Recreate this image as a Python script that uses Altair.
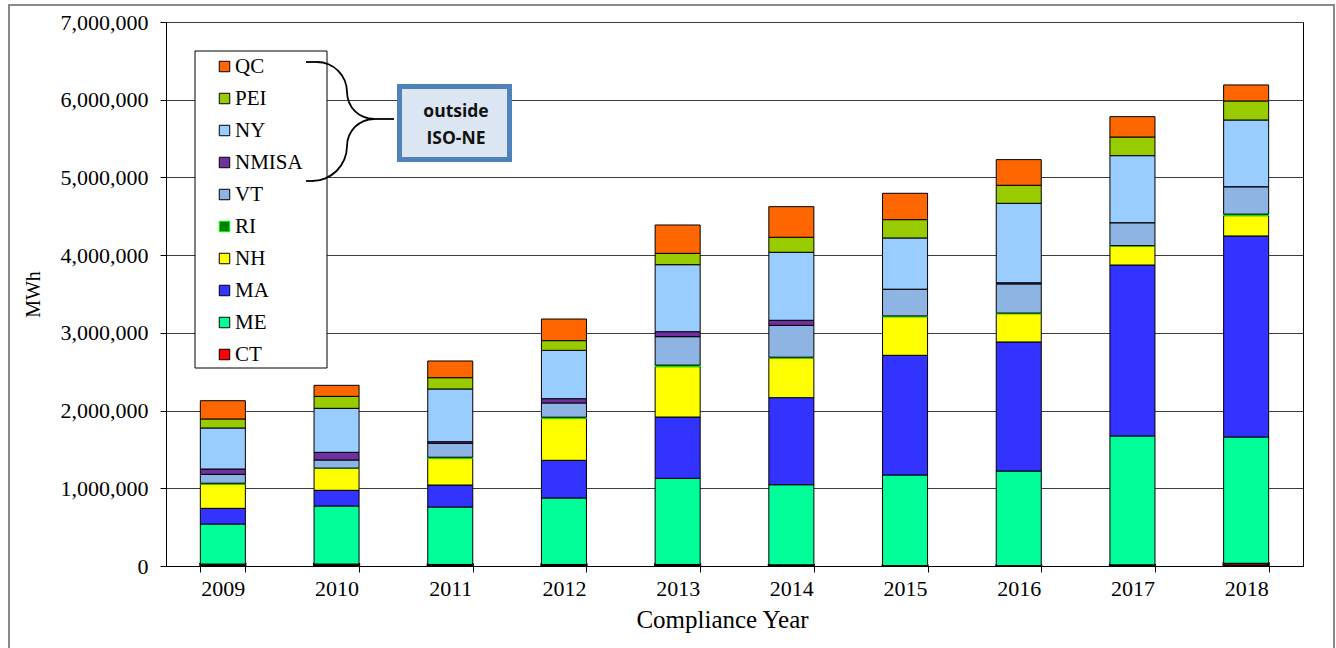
import altair as alt
import pandas as pd

# Compliance years on the x axis
years = ["2009", "2010", "2011", "2012", "2013", "2014", "2015", "2016", "2017", "2018"]

# Stack order, bottom to top
states = ["CT", "ME", "MA", "NH", "RI", "VT", "NMISA", "NY", "PEI", "QC"]

# MWh by state and year
ct = [25000, 25000, 20000, 20000, 20000, 15000, 5000, 5000, 15000, 35000]
me = [515000, 747000, 739000, 855000, 1108000, 1031000, 1166000, 1217000, 1658000, 1625000]
ma = [202000, 202000, 283000, 485000, 789000, 1120000, 1540000, 1661000, 2200000, 2587000]
nh = [313000, 283000, 344000, 540000, 648000, 511000, 497000, 364000, 245000, 261000]
ri = [10000, 3000, 14000, 15000, 20000, 10000, 10000, 8000, 5000, 20000]
vt = [115000, 104000, 179000, 183000, 366000, 410000, 342000, 375000, 295000, 353000]
nmisa = [68000, 99000, 21000, 55000, 64000, 65000, 2000, 15000, 0, 0]
ny = [528000, 566000, 678000, 622000, 862000, 875000, 659000, 1022000, 862000, 858000]
pei = [116000, 154000, 145000, 125000, 146000, 193000, 236000, 232000, 240000, 245000]
qc = [235000, 142000, 215000, 278000, 365000, 394000, 339000, 330000, 262000, 206000]
series = [ct, me, ma, nh, ri, vt, nmisa, ny, pei, qc]

fill_colors = {
    "CT": "#FF0000", "ME": "#00FF99", "MA": "#3333FF", "NH": "#FFFF00",
    "RI": "#008000", "VT": "#8DB4E2", "NMISA": "#7030A0", "NY": "#99CCFF",
    "PEI": "#99CC00", "QC": "#FF6600",
}
stroke_colors = {s: "#000000" for s in states}
stroke_colors["RI"] = "#00FF00"

y_ticks = [0, 1000000, 2000000, 3000000, 4000000, 5000000, 6000000, 7000000]

rows = []
for i, (st, vals) in enumerate(zip(states, series)):
    for yr, v in zip(years, vals):
        rows.append({"year": yr, "state": st, "mwh": v, "pos": i})
df = pd.DataFrame(rows)

legend_order = states[::-1]

# page placement of the plot area
LEFT, TOP, W, H = 166, 22, 1137, 544
SERIF = "Liberation Serif"

bars = alt.Chart(df).mark_bar(opacity=1).encode(
    x=alt.X(
        "year:N",
        title="Compliance Year",
        scale=alt.Scale(paddingInner=0.604, paddingOuter=0.302),
        axis=alt.Axis(
            labelAngle=0, tickBand="extent", grid=False, tickSize=6,
            labelPadding=6, titlePadding=8, titleX=556,
        ),
    ),
    y=alt.Y(
        "mwh:Q",
        stack="zero",
        title="MWh",
        scale=alt.Scale(domain=[0, 7000000], nice=False),
        axis=alt.Axis(format=",d", values=y_ticks, tickSize=6, labelPadding=12, titlePadding=17),
    ),
    fill=alt.Fill(
        "state:N",
        title=None,
        scale=alt.Scale(domain=legend_order, range=[fill_colors[s] for s in legend_order]),
        legend=alt.Legend(orient="none", legendX=48, legendY=34),
    ),
    stroke=alt.Stroke(
        "state:N",
        title=None,
        scale=alt.Scale(domain=legend_order, range=[stroke_colors[s] for s in legend_order]),
    ),
    strokeWidth=alt.condition(alt.datum.state == "CT", alt.value(2.2), alt.value(1)),
    order=alt.Order("pos:Q", sort="ascending"),
)

one = alt.Data(values=[{"k": 1}])

def px(x):
    return x - LEFT

def py(y):
    return y - TOP

# legend frame
legend_box = alt.Chart(one).mark_rect(fill="white", stroke="black", strokeWidth=1).encode(
    x=alt.value(px(195)), x2=alt.value(px(327)), y=alt.value(py(51)), y2=alt.value(py(368))
)

# outer figure frame
frame = alt.Chart(one).mark_rect(fill="transparent", stroke="#8a8a8a", strokeWidth=2).encode(
    x=alt.value(px(9)), x2=alt.value(px(1334)), y=alt.value(py(5)), y2=alt.value(py(700))
)

# curly brace from four quarter arcs and short straight pieces
PI = 3.141592653589793
arcs = []
for cx, cy, r, t0, t1 in [
    (317, 92, 30, 0, PI / 2),
    (374, 92, 27, PI, 1.5 * PI),
    (374, 146, 27, 1.5 * PI, 2 * PI),
    (312, 146, 35, PI / 2, PI),
]:
    arcs.append(
        alt.Chart(one).mark_arc(
            theta=t0, theta2=t1, radius=r + 0.9, radius2=r - 0.9, color="black"
        ).encode(x=alt.value(px(cx)), y=alt.value(py(cy)))
    )
brace_lines = []
for x1, x2, yy in [(306, 317, 62), (374, 394, 119), (306, 312, 181)]:
    brace_lines.append(
        alt.Chart(one).mark_rule(color="black", strokeWidth=1.8).encode(
            x=alt.value(px(x1)), x2=alt.value(px(x2)), y=alt.value(py(yy))
        )
    )

note_box = alt.Chart(one).mark_rect(fill="#DCE6F2", stroke="#4F81BD", strokeWidth=5).encode(
    x=alt.value(px(399.5)), x2=alt.value(px(509.5)), y=alt.value(py(86.5)), y2=alt.value(py(159.5))
)
note_style = dict(
    font="Open Sans", fontSize=17.5, fontWeight="bold", color="#111111", align="center", baseline="middle"
)
note_top = alt.Chart(one).mark_text(**note_style).encode(
    x=alt.value(px(456)), y=alt.value(py(112)), text=alt.value("outside")
)
note_bottom = alt.Chart(one).mark_text(**note_style).encode(
    x=alt.value(px(456)), y=alt.value(py(139)), text=alt.value("ISO-NE")
)

chart = alt.layer(
    frame, bars, legend_box, *arcs, *brace_lines, note_box, note_top, note_bottom
).properties(
    width=W,
    height=H,
    autosize=alt.AutoSizeParams(type="none"),
    padding={"left": LEFT, "top": TOP, "right": 1336 - LEFT - W, "bottom": 648 - TOP - H},
    background="white",
).configure_view(
    stroke="black", strokeWidth=1
).configure_axis(
    labelFont=SERIF, labelFontSize=22, labelColor="black",
    titleFont=SERIF, titleFontWeight="normal", titleColor="black",
    domainColor="black", tickColor="black", gridColor="#3c3c3c", gridWidth=1,
).configure_axisX(
    titleFontSize=25
).configure_axisY(
    titleFontSize=20
).configure_legend(
    symbolType="square", symbolSize=110, symbolStrokeWidth=1, symbolOpacity=1,
    labelFont=SERIF, labelFontSize=21, labelColor="black", labelOffset=0,
    rowPadding=10, padding=0,
)

chart.save("out.html", embed_options={"renderer": "svg", "actions": False})
